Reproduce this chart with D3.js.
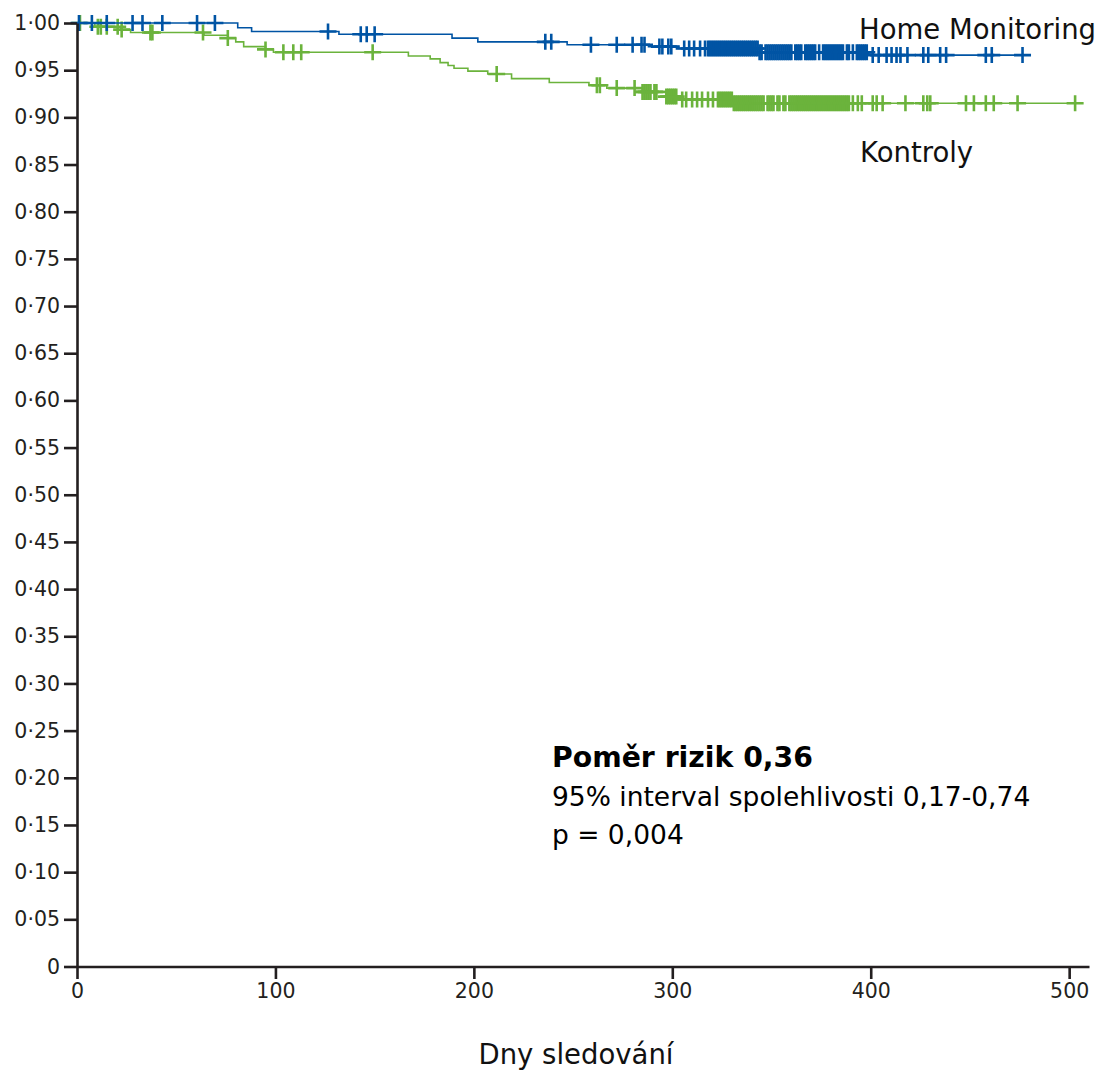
<!DOCTYPE html>
<html>
<head>
<meta charset="utf-8">
<script src="https://cdn.jsdelivr.net/npm/d3@7"></script>
<style>
  body { margin: 0; background: #fff; }
  svg { display: block; }
  text { font-family: "DejaVu Sans", Verdana, sans-serif; }
</style>
</head>
<body>
<div id="chart"></div>
<script>
// Home Monitoring - step times (days) and survival
var hmTimes = [0, 81, 88, 132, 189, 202, 247, 288, 303, 344, 399];
var hmSurv  = [1, 0.995, 0.991, 0.988, 0.984, 0.980, 0.977, 0.975, 0.973, 0.969, 0.966];
var hmEnd = 480;
var hmCensor = [1, 7.5, 15, 28, 33, 43, 60.5, 69.5, 126.5, 143, 146, 150, 236, 239, 259, 272, 280,
  284.5, 286, 293.5, 295, 298, 299.5, 306, 308.5, 311, 314, 316.5,
  318, 319, 320, 321, 322, 323, 324, 325, 326, 327, 328, 329, 330, 331, 332, 333, 334, 335, 336,
  337, 338, 339, 340, 341, 342, 343, 344, 345, 347, 348, 349, 350, 351, 352, 353, 354, 355, 356,
  357, 358, 359, 360, 362, 363, 364, 365, 367, 368, 369, 370, 371, 372, 374, 376, 377, 378, 379,
  380, 381, 382, 383, 384, 385, 386, 388, 389, 391, 393, 394, 395, 396, 397, 398,
  401, 404, 408, 410.5, 413, 415, 418.5, 426.5, 429, 435, 438, 458, 461, 476.5];

// Kontroly
var koTimes = [0, 9, 22, 27, 64, 76, 80, 84, 95, 99, 167, 178, 183, 187, 190, 197, 207, 219, 238, 258, 267, 285, 297, 303, 331];
var koSurv  = [1, 0.996, 0.993, 0.990, 0.987, 0.984, 0.980, 0.975, 0.972, 0.969, 0.965, 0.962, 0.958, 0.955,
  0.952, 0.949, 0.946, 0.941, 0.937, 0.934, 0.931, 0.927, 0.922, 0.919, 0.915];
var koEnd = 507;
var koCensor = [1.5, 10.5, 12, 15, 20.5, 22.5, 37, 38, 63.5, 76, 95, 104, 109, 113, 149, 211.5, 262, 263.5,
  272, 281, 285, 286, 287, 288, 289, 291, 292, 297, 298, 299, 300, 301, 302, 305, 307, 310, 312.5, 315,
  318, 320.5, 323, 324, 325, 326, 327, 328, 329, 330, 331, 332, 333, 334, 335, 336, 337, 338, 339, 340,
  341, 342, 343, 344, 345, 346, 348, 349, 350, 351, 353, 354, 356, 357, 359, 360, 361, 362, 363, 364,
  365, 366, 367, 368, 369, 370, 371, 372, 373, 374, 375, 376, 377, 378, 379, 380, 381, 382, 383, 384,
  385, 386, 387, 388, 389, 391, 393.5, 395.5, 401, 403, 406, 417.5, 426.5, 428.5, 430, 448, 452, 458,
  462, 474, 503];

var xTicks = [0, 100, 200, 300, 400, 500];
var yTicks = [0, 0.05, 0.10, 0.15, 0.20, 0.25, 0.30, 0.35, 0.40, 0.45, 0.50,
              0.55, 0.60, 0.65, 0.70, 0.75, 0.80, 0.85, 0.90, 0.95, 1.00];
var yTickLabels = ["0", "0·05", "0·10", "0·15", "0·20", "0·25", "0·30", "0·35", "0·40", "0·45", "0·50",
                   "0·55", "0·60", "0·65", "0·70", "0·75", "0·80", "0·85", "0·90", "0·95", "1·00"];

var width = 1110, height = 1073;
var blue = "#0054a4", green = "#6bb33c", ink = "#231f20";

var svg = d3.select("#chart").append("svg")
    .attr("width", width)
    .attr("height", height);

var x = d3.scaleLinear().domain([0, 510]).range([77, 1089]);
var y = d3.scaleLinear().domain([0, 1]).range([966.5, 23]);

// step value at time t
function survAt(times, surv, t) {
  var i = d3.bisectRight(times, t) - 1;
  return surv[Math.max(i, 0)];
}

function drawCurve(times, surv, end, censor, color) {
  var pts = times.map(function(t, i) { return [t, surv[i]]; });
  pts.push([end, surv[surv.length - 1]]);
  var line = d3.line()
      .x(function(d) { return x(d[0]); })
      .y(function(d) { return y(d[1]); })
      .curve(d3.curveStepAfter);
  svg.append("path")
      .datum(pts)
      .attr("d", line)
      .attr("fill", "none")
      .attr("stroke", color)
      .attr("stroke-width", 1.6);

  svg.append("g").selectAll("path")
      .data(censor)
    .enter().append("path")
      .attr("d", function(t) {
        var cx = x(t), cy = y(survAt(times, surv, t));
        return "M" + (cx - 8.5) + "," + cy + "h17M" + cx + "," + (cy - 8) + "v16";
      })
      .attr("stroke", color)
      .attr("stroke-width", 2.6)
      .attr("fill", "none");
}

drawCurve(koTimes, koSurv, koEnd, koCensor, green);
drawCurve(hmTimes, hmSurv, hmEnd, hmCensor, blue);

// axes
var yAxis = svg.append("g")
    .attr("transform", "translate(77,0)")
    .call(d3.axisLeft(y).tickValues(yTicks).tickSize(13).tickSizeOuter(0).tickPadding(4)
      .tickFormat(function(d, i) { return yTickLabels[i]; }));

var xAxis = svg.append("g")
    .attr("transform", "translate(0,966.5)")
    .call(d3.axisBottom(x).tickValues(xTicks).tickSize(12.5).tickSizeOuter(0).tickPadding(4));

[xAxis, yAxis].forEach(function(a) {
  a.select(".domain").attr("stroke", ink).attr("stroke-width", 2.6);
  a.selectAll(".tick line").attr("stroke", ink).attr("stroke-width", 2.6);
  a.selectAll(".tick text")
      .attr("fill", ink)
      .style("font-family", "'DejaVu Sans', sans-serif")
      .style("font-size", "20.5px");
});

// labels
svg.append("text").attr("x", 859).attr("y", 39)
    .style("font-size", "27.5px").attr("fill", "#111").text("Home Monitoring");
svg.append("text").attr("x", 860).attr("y", 162)
    .style("font-size", "27.5px").attr("fill", "#111").text("Kontroly");
svg.append("text").attr("x", 576).attr("y", 1064).attr("text-anchor", "middle")
    .style("font-size", "27.5px").attr("fill", "#111").text("Dny sledování");

svg.append("text").attr("x", 552).attr("y", 767)
    .style("font-size", "28.3px").style("font-weight", "bold").attr("fill", "#000")
    .text("Poměr rizik 0,36");
svg.append("text").attr("x", 552).attr("y", 806)
    .style("font-size", "26.5px").attr("fill", "#000")
    .text("95% interval spolehlivosti 0,17-0,74");
svg.append("text").attr("x", 552).attr("y", 844)
    .style("font-size", "26.5px").attr("fill", "#000")
    .text("p = 0,004");
</script>
</body>
</html>
